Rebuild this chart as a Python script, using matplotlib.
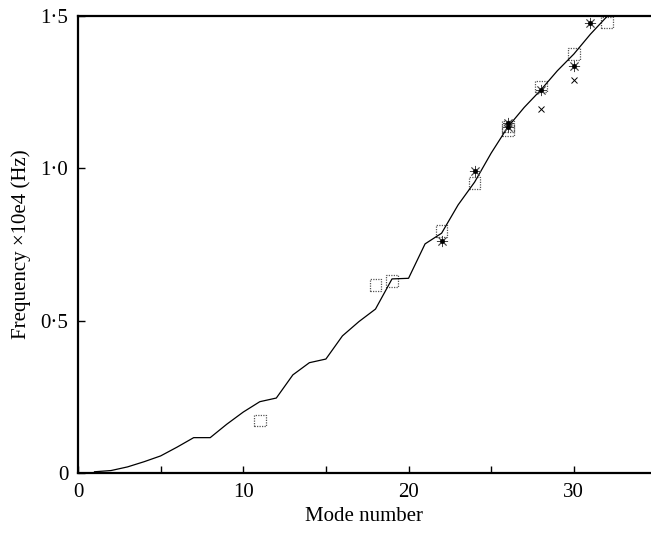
import matplotlib
matplotlib.use("Agg")
import matplotlib.pyplot as plt
from matplotlib.ticker import MultipleLocator, FuncFormatter, FixedLocator

# computed curve (mode number, frequency x 1e4 Hz)
modes = list(range(1, 33))
freq_calc = [0.004, 0.008, 0.02, 0.037, 0.056, 0.085, 0.116, 0.116, 0.16, 0.2,
             0.234, 0.246, 0.322, 0.362, 0.374, 0.45, 0.497, 0.538, 0.637, 0.639,
             0.752, 0.787, 0.88, 0.955, 1.05, 1.135, 1.2, 1.257, 1.32, 1.375,
             1.44, 1.498]

# measured points, square markers
sq_modes = [11, 18, 19, 22, 24, 26, 26, 28, 30, 32]
sq_freq = [0.172, 0.617, 0.63, 0.794, 0.951, 1.124, 1.137, 1.268, 1.375, 1.479]

# asterisk markers
st_modes = [22, 24, 26, 26, 28, 30, 31]
st_freq = [0.76, 0.991, 1.137, 1.15, 1.257, 1.337, 1.476]

# cross markers
cr_modes = [28, 30]
cr_freq = [1.194, 1.29]

plt.rcParams["font.family"] = ["Liberation Serif", "DejaVu Serif"]

fig = plt.figure(figsize=(6.51, 5.33), dpi=100)
ax = fig.add_axes([0.1198, 0.1126, 0.8802, 0.8574])

ax.plot(modes, freq_calc, color="black", linewidth=0.9)
ax.scatter(sq_modes, sq_freq, marker="s", s=70, facecolors="none",
           edgecolors="#555555", linewidths=0.9, linestyles=(0, (1, 1)))
ax.plot(st_modes, st_freq, linestyle="none", marker=(8, 2, 0), markersize=8,
        color="#444444", markeredgewidth=0.6)
ax.plot(st_modes, st_freq, linestyle="none", marker="o", markersize=2.5,
        color="black")
ax.plot(cr_modes, cr_freq, linestyle="none", marker="x", markersize=4,
        color="black", markeredgewidth=0.7)

ax.set_xlim(0, 34.67)
ax.set_ylim(0, 1.5)

ax.xaxis.set_major_locator(MultipleLocator(5))
ax.xaxis.set_major_formatter(FuncFormatter(lambda v, p: "%d" % v if int(round(v)) % 10 == 0 else ""))
ax.yaxis.set_major_locator(FixedLocator([0, 0.5, 1.0, 1.5]))
ax.yaxis.set_major_formatter(FuncFormatter(lambda v, p: "0" if v == 0 else ("%.1f" % v).replace(".", "\u00b7")))

ax.tick_params(direction="in", length=5, width=1, labelsize=15, pad=7)
ax.tick_params(top=False, right=False)

for side in ["left", "bottom", "top"]:
    ax.spines[side].set_linewidth(1.6)
ax.spines["right"].set_visible(False)

ax.set_xlabel("Mode number", fontsize=15, labelpad=4)
ax.set_ylabel("Frequency \u00d710e4 (Hz)", fontsize=15, labelpad=7)

fig.savefig("out.png", dpi=100)
